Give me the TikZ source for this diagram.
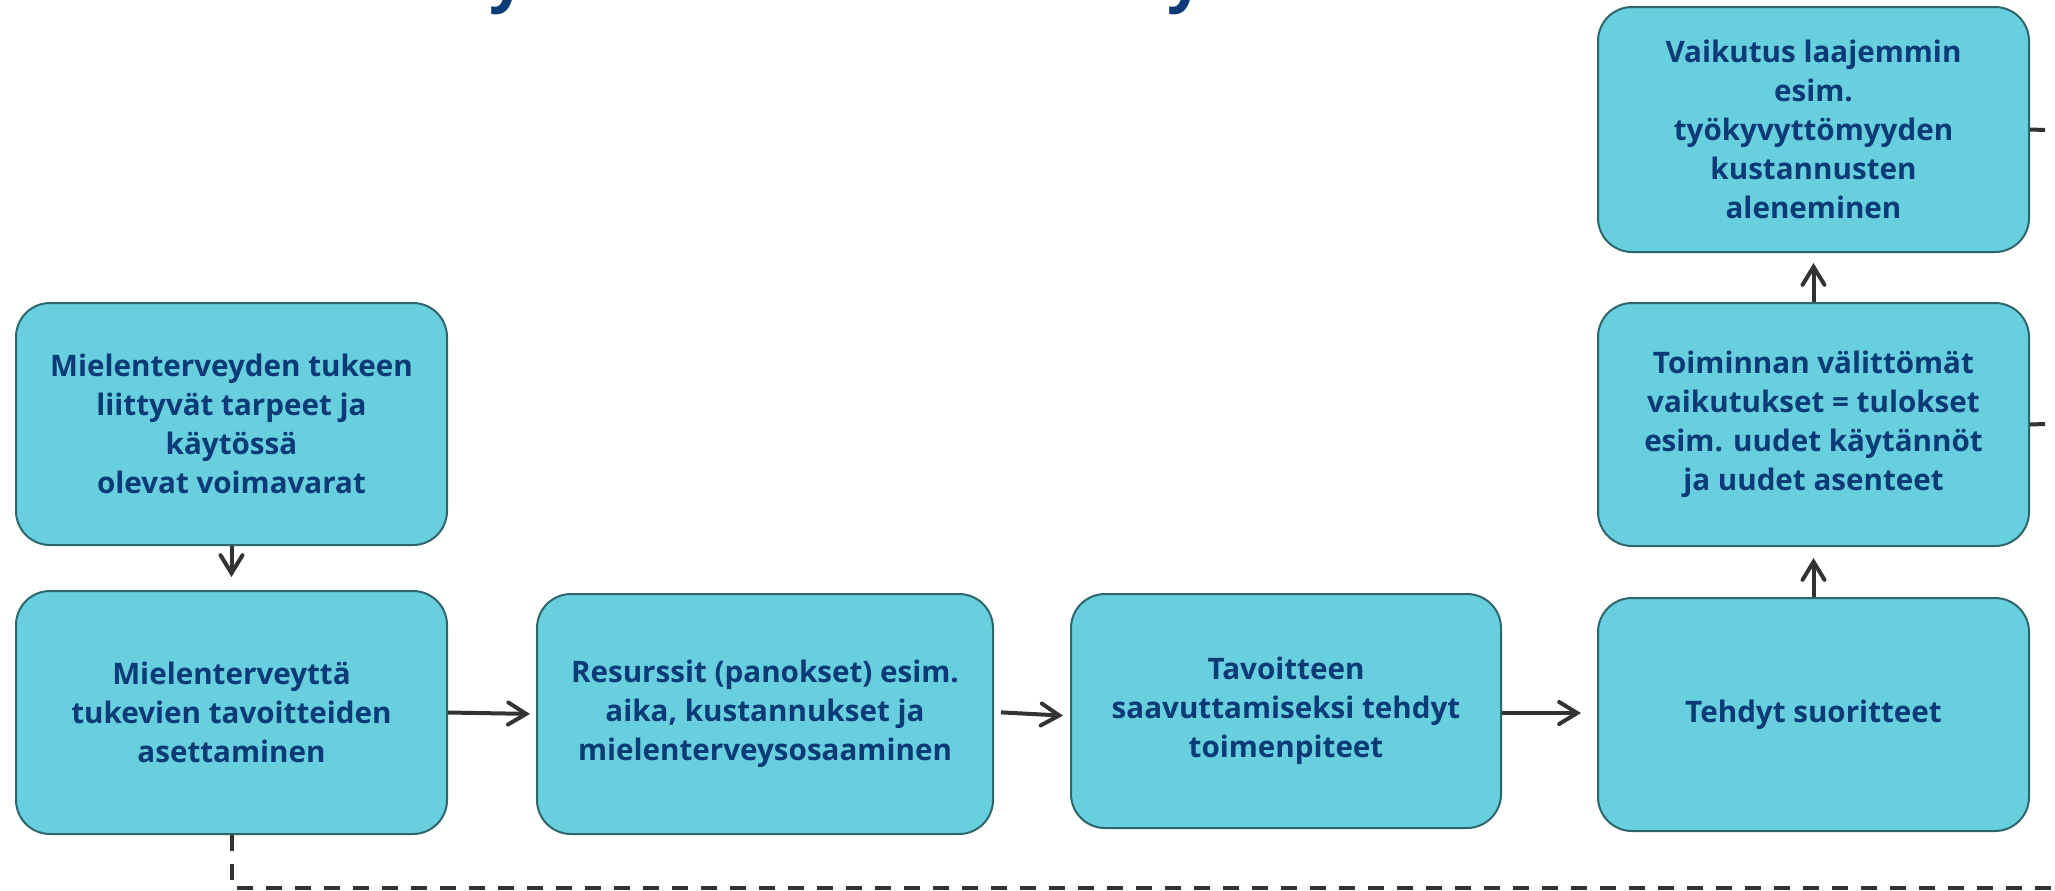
\documentclass[tikz,border=0pt]{standalone}
\usepackage{fontspec}
\setmainfont{Open Sans}
\usetikzlibrary{arrows.meta,calc}
\definecolor{boxfill}{HTML}{67CFDE}
\definecolor{boxline}{HTML}{2D676B}
\definecolor{txt}{HTML}{0A3B76}
\definecolor{conn}{HTML}{333333}
\begin{document}
\begin{tikzpicture}[x=0.5pt,y=-0.5pt,
  box/.style={draw=boxline,line width=1pt,fill=boxfill,rounded corners=17pt,align=center,text=txt,
    font=\bfseries\fontsize{14.8}{19.5}\selectfont,inner sep=0pt,anchor=center},
  arr/.style={draw=conn,line width=2pt,-{Straight Barb[length=9pt,width=11pt,line cap=round]}},
  ln/.style={draw=conn,line width=2pt},
  dsh/.style={draw=conn,line width=2pt,dash pattern=on 8pt off 6.5pt}]
\useasboundingbox (0,0) rectangle (2055,890);
\begin{scope}
\clip (0,0) rectangle (2055,890);
\node[text=txt,font=\bfseries\fontsize{32}{32}\selectfont,anchor=base west,inner sep=0pt] (t1) at (489,-1) {y};
\node[text=txt,font=\bfseries\fontsize{32}{32}\selectfont,anchor=base west,inner sep=0pt] (t2) at (1167,-1) {y};
\end{scope}
\node[box,minimum width=215.5pt,minimum height=121pt] (A) at (231.5,424)
  {Mielenterveyden tukeen\\liittyvät tarpeet ja\\käytössä\\olevat voimavarat};
\node[box,minimum width=215.5pt,minimum height=121.5pt] (B) at (231.5,712.5)
  {Mielenterveyttä\\tukevien tavoitteiden\\asettaminen};
\node[box,minimum width=228pt,minimum height=120pt] (C) at (765,714)
  {Resurssit (panokset) esim.\\aika, kustannukset ja\\mielenterveysosaaminen};
\node[box,minimum width=215pt,minimum height=117pt] (D) at (1286,711)
  {Tavoitteen\\saavuttamiseksi tehdyt\\toimenpiteet};
\node[box,minimum width=215.5pt,minimum height=116.5pt] (E) at (1813.5,714.5)
  {Tehdyt suoritteet};
\node[box,minimum width=215.5pt,minimum height=121.5pt] (F) at (1813.5,424.5)
  {Toiminnan välittömät\\vaikutukset = tulokset\\esim. uudet käytännöt\\ja uudet asenteet};
\node[box,minimum width=215.5pt,minimum height=122.5pt] (G) at (1813.5,129.5)
  {Vaikutus laajemmin\\esim.\\työkyvyttömyyden\\kustannusten\\aleneminen};
\coordinate (g1) at (2045,130);
\coordinate (f1) at (2045,424);
\coordinate (dend) at (2070,888);
\draw[arr,shorten >=6.5pt] (A.south) -- (B.north);
\draw[arr,shorten >=3pt] (B.east) -- (C.west);
\draw[arr,shorten <=3.5pt,shorten >=3.5pt] ([yshift=1pt]C.east) -- ([yshift=-2.5pt]D.west);
\draw[arr,shorten >=8pt] ([yshift=-1pt]D.east) -- ([yshift=0.75pt]E.west);
\draw[arr,shorten >=5.5pt] (E.north) -- (F.south);
\draw[arr,shorten >=5pt] (F.north) -- (G.south);
\draw[ln] (G.east) -- (g1);
\draw[ln] (F.east) -- (f1);
\draw[dsh] (B.south) |- (dend);
\end{tikzpicture}
\end{document}
